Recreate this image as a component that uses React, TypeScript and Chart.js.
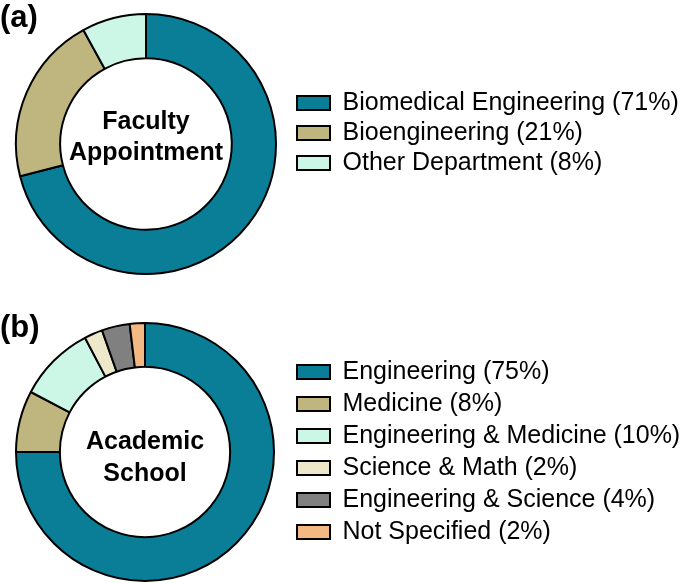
import React, { useEffect, useRef } from "react";
import { Chart, registerables } from "chart.js";

Chart.register(...registerables);

// ---- Data ----
const facultyLabels = [
  "Biomedical Engineering (71%)",
  "Bioengineering (21%)",
  "Other Department (8%)",
];
const facultyValues = [71, 21, 8];
const facultyColors = ["#0B7E97", "#BFB57E", "#CCF6E6"];
const facultyCenter = ["Faculty", "Appointment"];

const schoolLabels = [
  "Engineering (75%)",
  "Medicine (8%)",
  "Engineering & Medicine (10%)",
  "Science & Math (2%)",
  "Engineering & Science (4%)",
  "Not Specified (2%)",
];
const schoolValues = [75, 7.7, 9.6, 2.3, 3.5, 1.9];
const schoolColors = ["#0B7E97", "#BFB57E", "#CCF6E6", "#EEE8CB", "#808080", "#F4B883"];
const schoolCenter = ["Academic", "School"];

const FONT = "'Liberation Sans', Arial, Helvetica, sans-serif";

const textPlugin = {
  id: "donutText",
  afterDraw(chart: any, _args: any, opts: any) {
    const arc = chart.getDatasetMeta(0).data[0];
    if (!arc) return;
    const { x, y } = arc;
    const ctx = chart.ctx;
    ctx.save();
    ctx.fillStyle = "#000";
    ctx.textBaseline = "alphabetic";
    ctx.textAlign = "center";
    ctx.font = `bold 25px ${FONT}`;
    (opts.lines || []).forEach((t: string, i: number) => {
      ctx.fillText(t, x, y + opts.offsets[i]);
    });
    ctx.textAlign = "left";
    ctx.font = `bold 31px ${FONT}`;
    ctx.fillText(opts.tag, 0, opts.tagY);
    ctx.restore();
  },
};

function makeConfig(
  labels: string[],
  values: number[],
  colors: string[],
  center: string[],
  tag: string,
  p: {
    radius: number;
    pad: { top: number; bottom: number; left: number; right: number };
    legendPad: number;
    legendMax: number;
    align: "start" | "center" | "end";
    offsets: number[];
    tagY: number;
  }
): any {
  return {
    type: "doughnut",
    data: {
      labels,
      datasets: [
        {
          data: values,
          backgroundColor: colors,
          borderColor: "#000",
          borderWidth: 2,
          clip: false,
        },
      ],
    },
    options: {
      animation: false,
      responsive: false,
      radius: p.radius,
      cutout: "66%",
      layout: { padding: p.pad },
      plugins: {
        tooltip: { enabled: false },
        legend: {
          position: "right",
          align: p.align,
          maxWidth: p.legendMax,
          labels: {
            color: "#000",
            boxWidth: 33,
            boxHeight: 14,
            padding: p.legendPad,
            font: { family: FONT, size: 25 },
          },
        },
        donutText: { lines: center, offsets: p.offsets, tag, tagY: p.tagY },
      },
    },
    plugins: [textPlugin],
  };
}

function DonutCanvas({ config, top }: { config: any; top: number }) {
  const ref = useRef<HTMLCanvasElement | null>(null);
  useEffect(() => {
    if (!ref.current) return;
    const chart = new Chart(ref.current, config);
    return () => chart.destroy();
  }, [config]);
  return (
    <canvas
      ref={ref}
      width={685}
      height={292}
      style={{ position: "absolute", left: 0, top, width: 685, height: 292, display: "block" }}
    />
  );
}

const configA = makeConfig(facultyLabels, facultyValues, facultyColors, facultyCenter, "(a)", {
  radius: 130,
  pad: { top: 85.5, bottom: 89.5, left: 0, right: 0 },
  legendPad: 5,
  legendMax: 393,
  align: "start",
  offsets: [-15, 16],
  tagY: 27,
});

const configB = makeConfig(schoolLabels, schoolValues, schoolColors, schoolCenter, "(b)", {
  radius: 129,
  pad: { top: 30, bottom: 2, left: 0, right: 0 },
  legendPad: 7,
  legendMax: 395,
  align: "center",
  offsets: [-3, 29],
  tagY: 45,
});

export default function App() {
  return (
    <div
      style={{
        position: "absolute",
        left: 0,
        top: 0,
        width: 685,
        height: 584,
        background: "#fff",
        overflow: "hidden",
      }}
    >
      <DonutCanvas config={configA} top={0} />
      <DonutCanvas config={configB} top={292} />
    </div>
  );
}
